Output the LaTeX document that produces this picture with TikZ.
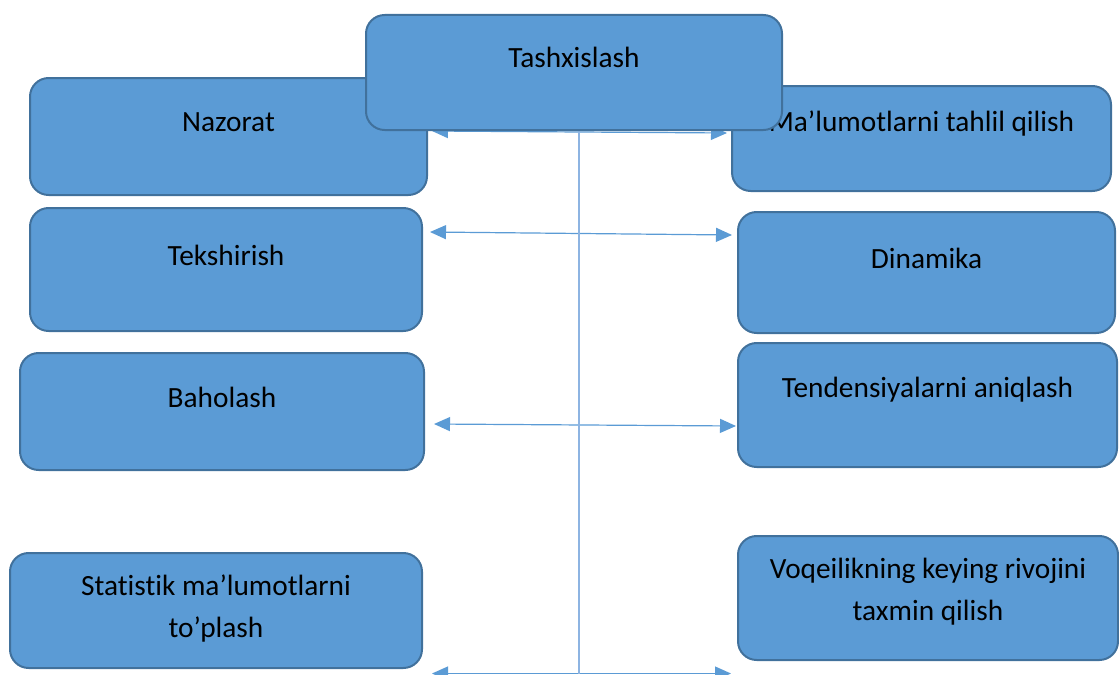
\documentclass[tikz,border=0pt]{standalone}
\usepackage{fontspec}
\setmainfont{Carlito}[Ligatures=NoCommon]
\usetikzlibrary{arrows.meta}
\definecolor{blokfill}{HTML}{5B9BD5}
\definecolor{blokline}{HTML}{41719C}
\definecolor{strelkacol}{HTML}{5B9BD5}
\definecolor{oscol}{HTML}{8DB4E2}

\begin{document}
\begin{tikzpicture}[x=0.75pt,y=-0.75pt,
	blok/.style={draw=blokline, line width=1.5pt, fill=blokfill, rounded corners=14pt, inner sep=0pt},
	matn/.style={font=\fontsize{22}{31.5}\selectfont, align=center, inner sep=0pt},
	strelka/.style={draw=strelkacol, line width=0.9pt, {Triangle[length=12pt,width=10.5pt]}-{Triangle[length=12pt,width=10.5pt]}}]
	\useasboundingbox (0,0) rectangle (1119,674);
	% side blocks: name / centre x / centre y / width / height / text y / text
	\foreach \n/\cx/\cy/\w/\h/\ty/\t in {
		nazorat/228.5/136.5/397/117/122/{Nazorat},
		tahlil/921.5/138.5/379/105/124/{Ma’lumotlarni tahlil qilish},
		tekshirish/226/269.5/392/123/255/{Tekshirish},
		dinamika/926.5/272.5/377/121/258/{Dinamika},
		baholash/222/411.5/404/117/397/{Baholash},
		tendensiya/927.5/405/379/124/390/{Tendensiyalarni aniqlash},
		statistik/216/610.5/412/115/609/{Statistik ma’lumotlarni\\to’plash},
		taxmin/928/598/380/124/592/{Voqeilikning keying rivojini\\taxmin qilish}}
	{
		\node[blok, minimum width=\w*0.75pt, minimum height=\h*0.75pt] (\n) at (\cx,\cy) {};
		\node[matn] (\n-t) at (\cx,\ty) {\t};
	}
	% arrow ends
	\coordinate (a1l) at (432,131);
	\coordinate (a1r) at (727,133);
	\coordinate (a2l) at (430,232);
	\coordinate (a2r) at (732,235);
	\coordinate (a3l) at (434,424);
	\coordinate (a3r) at (736,426);
	\coordinate (a4l) at (432,673.5);
	\coordinate (a4r) at (731,673.5);
	\coordinate (os) at (579,674);
	\foreach \i in {1,...,4}
		\draw[strelka] (a\i l) -- (a\i r);
	\draw[oscol, line width=1.1pt] (579,130) -- (os);
	% top block over the rest
	\node[blok, minimum width=416*0.75pt, minimum height=115*0.75pt] (tashxis) at (574,72.5) {};
	\node[matn] (tashxis-t) at (574,57) {Tashxislash};
\end{tikzpicture}
\end{document}
